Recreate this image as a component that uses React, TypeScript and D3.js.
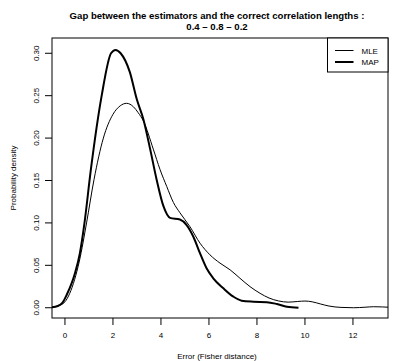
import React from "react";
import * as d3 from "d3";

const titleLines = [
  "Gap between the estimators and the correct correlation lengths :",
  "0.4 \u2013 0.8 \u2013 0.2",
];
const xLabel = "Error (Fisher distance)";
const yLabel = "Probability density";
const xTicks = [0, 2, 4, 6, 8, 10, 12];
const yTicks = [0, 0.05, 0.1, 0.15, 0.2, 0.25, 0.3];
const seriesNames = ["MLE", "MAP"];

const mleX = [-0.6, -0.3, 0, 0.2, 0.4, 0.6, 0.9, 1.21, 1.6, 2.0, 2.3, 2.57, 2.85, 3.05, 3.27, 3.68, 3.96, 4.24, 4.52, 4.79, 5.21, 5.63, 6.04, 6.46, 6.88, 7.29, 7.71, 8.13, 8.5, 8.9, 9.3, 9.7, 10.0, 10.3, 10.64, 11.0, 11.5, 12.03, 12.5, 12.86, 13.6];
const mleY = [0.0003, 0.002, 0.007, 0.017, 0.033, 0.055, 0.1, 0.151, 0.2, 0.228, 0.238, 0.241, 0.237, 0.23, 0.22, 0.187, 0.163, 0.143, 0.124, 0.112, 0.0955, 0.076, 0.0624, 0.0526, 0.0447, 0.0348, 0.0249, 0.017, 0.0115, 0.008, 0.0066, 0.0074, 0.0079, 0.007, 0.0045, 0.002, 0.0004, 0.0, 0.0006, 0.0012, 0.0004];

const mapX = [-0.6, -0.3, -0.1, 0.07, 0.28, 0.42, 0.62, 0.8, 1.08, 1.53, 1.92, 2.11, 2.32, 2.7, 2.99, 3.27, 3.55, 3.82, 4.1, 4.38, 4.79, 5.07, 5.35, 5.63, 5.9, 6.18, 6.6, 7.02, 7.36, 7.85, 8.41, 8.83, 9.25, 9.73];
const mapY = [0.0003, 0.002, 0.006, 0.015, 0.029, 0.041, 0.064, 0.097, 0.163, 0.25, 0.3, 0.304, 0.3, 0.278, 0.246, 0.222, 0.187, 0.151, 0.12, 0.106, 0.104, 0.0975, 0.0837, 0.064, 0.0465, 0.0347, 0.0229, 0.013, 0.0083, 0.0071, 0.0066, 0.0044, 0.0012, 0.0];

const W = 394;
const H = 361;
const plot = { left: 52, right: 388, top: 38, bottom: 318 };

export default function App() {
  const x = d3.scaleLinear().domain([-0.54, 13.46]).range([plot.left, plot.right]);
  const y = d3.scaleLinear().domain([-0.0121, 0.318]).range([plot.bottom, plot.top]);
  const line = d3
    .line<[number, number]>()
    .x((d) => x(d[0]))
    .y((d) => y(d[1]))
    .curve(d3.curveMonotoneX);
  const mle = line(mleX.map((v, i) => [v, mleY[i]] as [number, number])) || "";
  const map = line(mapX.map((v, i) => [v, mapY[i]] as [number, number])) || "";
  const font = "'Liberation Sans', Arial, Helvetica, sans-serif";
  const cx = 217;
  return (
    <svg
      width={W}
      height={H}
      style={{ position: "absolute", left: 0, top: 0, background: "#fff" }}
      fontFamily={font}
    >
      <defs>
        <clipPath id="pc">
          <rect x={plot.left} y={plot.top} width={plot.right - plot.left} height={plot.bottom - plot.top} />
        </clipPath>
      </defs>
      <rect width={W} height={H} fill="#fff" />
      {titleLines.map((t, i) => (
        <text key={i} x={cx} y={18.5 + i * 11} textAnchor="middle" fontWeight="bold" fontSize={9.6} fill="#000">
          {t}
        </text>
      ))}
      <g clipPath="url(#pc)" fill="none" stroke="#000">
        <path d={mle} strokeWidth={1} />
        <path d={map} strokeWidth={2} />
      </g>
      <rect
        x={plot.left}
        y={plot.top}
        width={plot.right - plot.left}
        height={plot.bottom - plot.top}
        fill="none"
        stroke="#000"
        strokeWidth={1}
      />
      {xTicks.map((t) => (
        <g key={t}>
          <line x1={x(t)} x2={x(t)} y1={plot.bottom} y2={plot.bottom + 7} stroke="#000" />
          <text x={x(t)} y={338} textAnchor="middle" fontSize={8} fill="#000">
            {t}
          </text>
        </g>
      ))}
      {yTicks.map((t) => (
        <g key={t}>
          <line x1={plot.left - 7} x2={plot.left} y1={y(t)} y2={y(t)} stroke="#000" />
          <text
            transform={`translate(${39},${y(t)}) rotate(-90)`}
            textAnchor="middle"
            fontSize={8}
            fill="#000"
          >
            {d3.format(".2f")(t)}
          </text>
        </g>
      ))}
      <text x={cx} y={359} textAnchor="middle" fontSize={8} fill="#000">
        {xLabel}
      </text>
      <text transform={`translate(16,${(plot.top + plot.bottom) / 2}) rotate(-90)`} textAnchor="middle" fontSize={8} fill="#000">
        {yLabel}
      </text>
      <g>
        <rect x={327.5} y={plot.top} width={plot.right - 327.5} height={34} fill="#fff" stroke="#000" />
        {seriesNames.map((n, i) => (
          <g key={n}>
            <line x1={335} x2={353.5} y1={50.5 + i * 11.5} y2={50.5 + i * 11.5} stroke="#000" strokeWidth={i === 0 ? 1 : 2} />
            <text x={361.5} y={53.5 + i * 11.5} fontSize={8} fill="#000">
              {n}
            </text>
          </g>
        ))}
      </g>
    </svg>
  );
}
